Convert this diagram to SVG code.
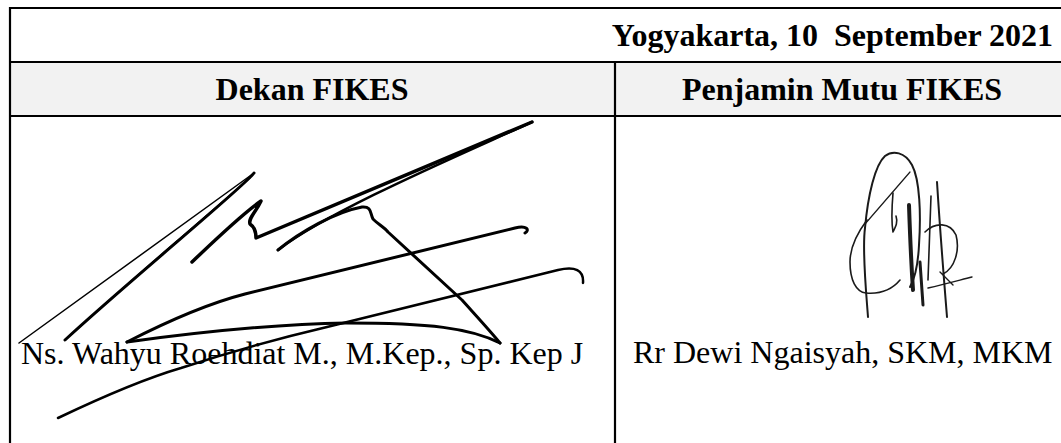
<svg xmlns="http://www.w3.org/2000/svg" width="1061" height="443" viewBox="0 0 1061 443">
<style>
.b{fill:none;stroke:#000;stroke-width:2.2}
.t{font-family:"Liberation Serif","Times New Roman",serif;font-size:32px;fill:#000}
.bold{font-weight:bold}
.s{fill:none;stroke:#000;stroke-linecap:round;stroke-linejoin:round}
.r{fill:none;stroke:#1a1a1a;stroke-linecap:round;stroke-linejoin:round}
</style>
<rect x="0" y="0" width="1061" height="443" fill="#fff"/>
<g id="table">
<rect x="10" y="62" width="1060" height="54" fill="#f2f2f2"/>
<path class="b" d="M10,8 H1070 M10,62 H1070 M10,116 H1070 M10,7 V443 M615,62 V443"/>
</g>
<g id="date"><text class="t bold" x="1053" y="46" text-anchor="end" xml:space="preserve">Yogyakarta, 10  September 2021</text></g>
<g id="dekan-header"><text class="t bold" x="312" y="100" text-anchor="middle">Dekan FIKES</text></g>
<g id="pm-header"><text class="t bold" x="842" y="100" text-anchor="middle">Penjamin Mutu FIKES</text></g>
<g id="dekan-name"><text class="t" x="21" y="364">Ns. Wahyu Roehdiat M., M.Kep., Sp. Kep J</text></g>
<g id="pm-name"><text class="t" x="633" y="363">Rr Dewi Ngaisyah, SKM, MKM</text></g>
<g id="dekan-signature">
<path class="s" stroke-width="1.5" d="M19,343 L254,173"/>
<path class="s" stroke-width="3" d="M254,173 C245,186 130,280 65,340"/>
<path class="s" stroke-width="1.3" d="M250,178 C215,208 120,290 72,334"/>
<path class="s" stroke-width="3.5" d="M192,262 C215,240 245,212 261,201 C256,212 248,218 250,224 C256,228 256,234 256,238 L532,122"/>
<path class="s" stroke-width="2.5" d="M532,122 C460,155 330,210 278,250"/>
<path class="s" stroke-width="3" d="M278,250 C300,232 335,212 362,207 C372,206 370,214 373,219 C378,224 385,228 388,232 L462,300 C480,320 492,333 500,343"/>
<path class="s" stroke-width="3" d="M500,343 C470,328 430,323 346,323 C280,324 200,332 127,342"/>
<path class="s" stroke-width="3" d="M127,342 C170,320 210,303 245,294 L515,228 C527,225 530,230 525,233"/>
<path class="s" stroke-width="2.5" d="M58,418 C100,398 140,380 181,368 C230,352 280,338 327,327 L558,270 C575,266 584,270 583,283"/>
</g>
<g id="pm-signature">
<path class="r" stroke-width="2" d="M868,317 C866,290 862,250 865,228 C868,195 875,165 885,156 C893,150 905,152 912,165 C920,180 921,215 919,245 C918,265 914,280 910,287"/>
<path class="r" stroke-width="1.6" d="M867,220 C858,232 850,248 850,262 C850,280 856,292 866,293 C878,294 890,292 900,280"/>
<path class="r" stroke-width="1.2" d="M865,224 L910,172"/>
<path class="r" stroke-width="4" d="M909,205 C910,235 911,260 913,290"/>
<path class="r" stroke-width="1.6" d="M893,193 C892,205 891,220 893,232 C896,226 898,222 896,216"/>
<path class="r" stroke-width="2" d="M937,182 C940,230 944,280 947,317"/>
<path class="r" stroke-width="1.6" d="M931,196 L928,280"/>
<path class="r" stroke-width="1.6" d="M925,232 C935,222 950,222 956,235 C960,250 955,268 943,274"/>
<path class="r" stroke-width="1.4" d="M928,288 C945,284 960,280 972,277"/>
<path class="r" stroke-width="3" d="M920,262 L923,305"/>
<path class="r" stroke-width="1.4" d="M940,272 L953,285"/>
</g>
</svg>
